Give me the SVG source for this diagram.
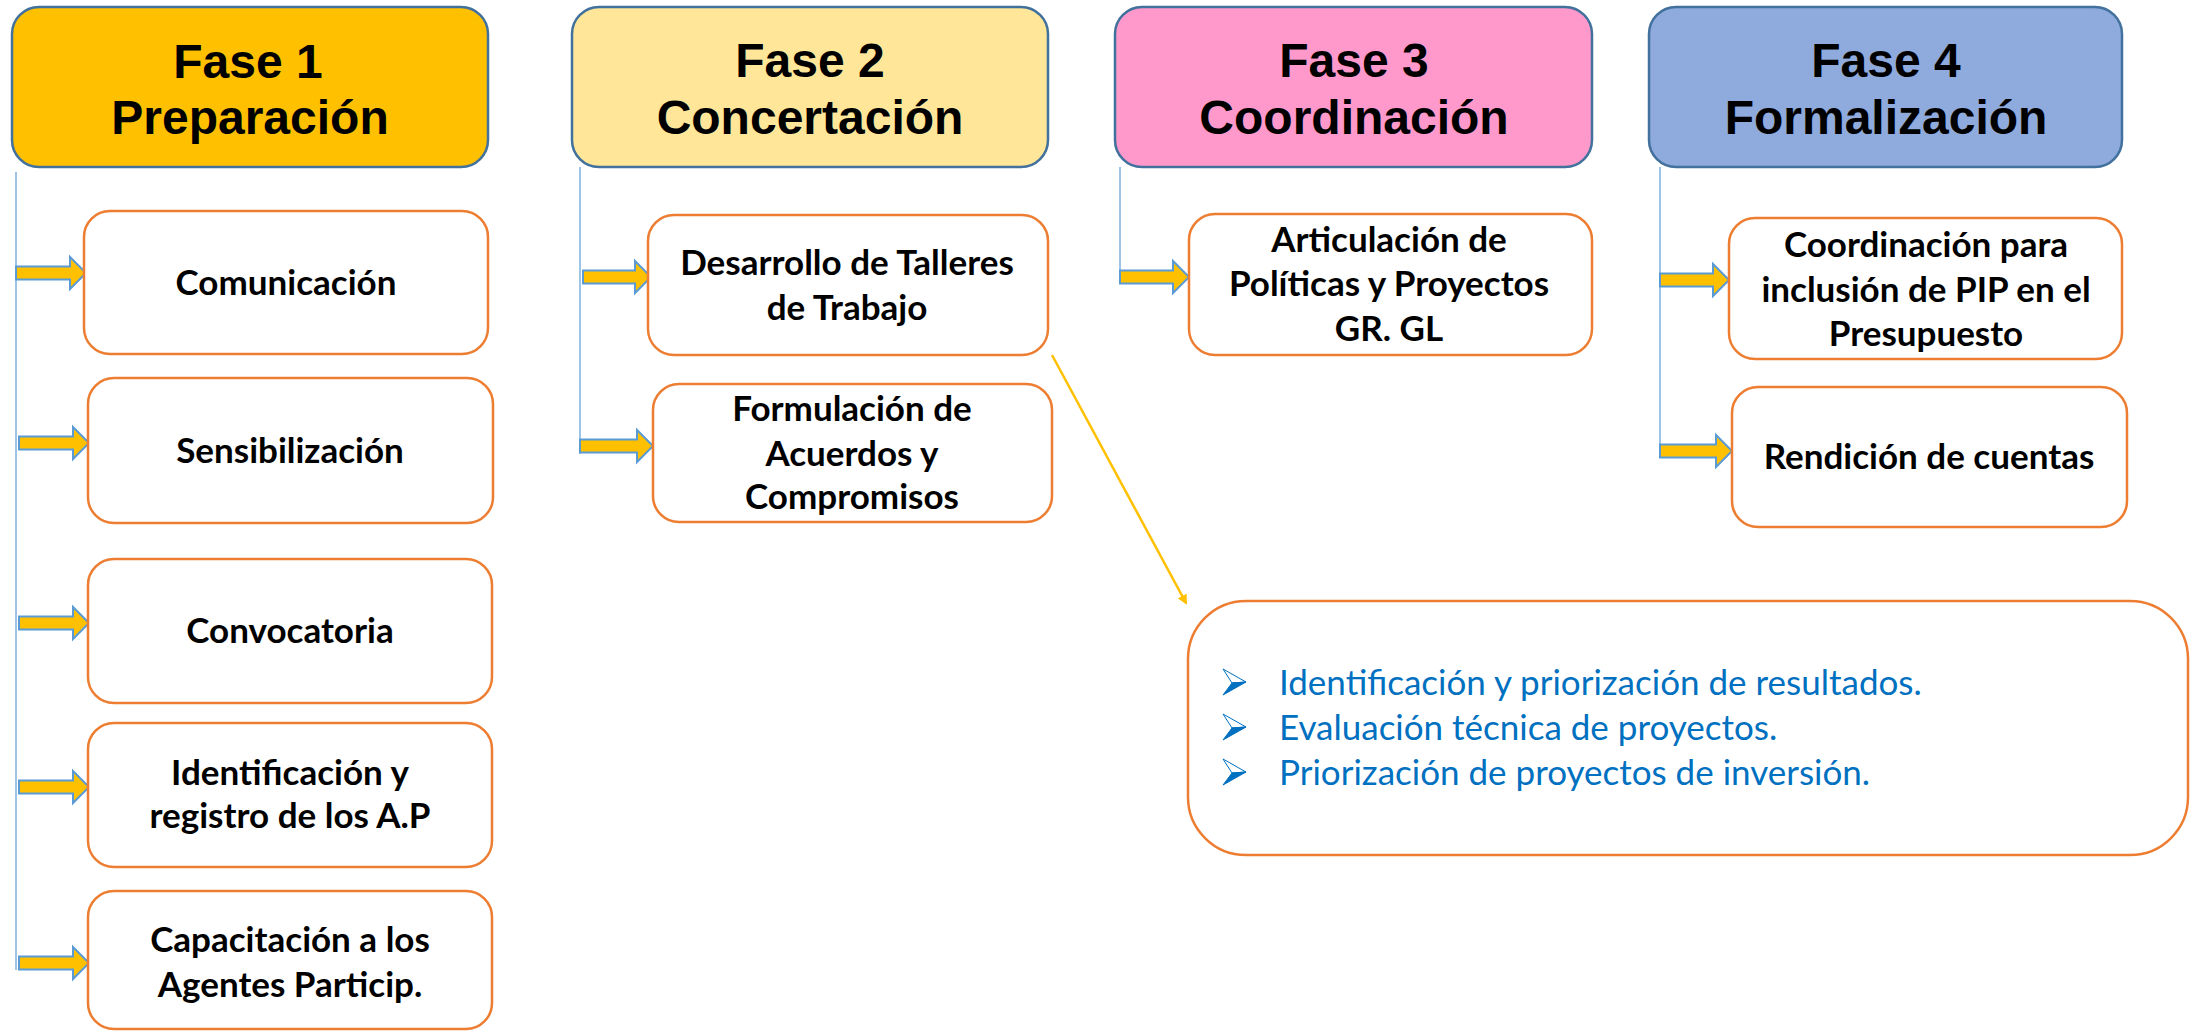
<svg xmlns="http://www.w3.org/2000/svg" width="2200" height="1031" viewBox="0 0 2200 1031">
<defs>
<style>
.phase{stroke:#41719C;stroke-width:2.5}
.ph-t{font-family:"Liberation Sans",Arial,sans-serif;font-weight:bold;font-size:48px;fill:#000;text-anchor:middle}
.box{fill:#fff;stroke:#ED7D31;stroke-width:2.5}
.bt{font-family:Lato,"Liberation Sans",sans-serif;font-weight:bold;font-size:35px;fill:#000;text-anchor:middle}
.vl{stroke:#9DC3E6;stroke-width:2;fill:none}
.ar{fill:#FFC000;stroke:#5B9BD5;stroke-width:2}
.bl{font-family:Lato,"Liberation Sans",sans-serif;font-size:35px;fill:#0070C0}
</style>
<marker id="ah" markerWidth="10" markerHeight="10" refX="8" refY="5" orient="auto" markerUnits="userSpaceOnUse" viewBox="0 0 10 10">
<path d="M0,0 L10,5 L0,10 Z" fill="#FFC000"/>
</marker>
</defs>
<rect width="2200" height="1031" fill="#fff"/>

<g id="connectors">
<path class="vl" d="M16,172 V970"/>
<path class="vl" d="M580,167 V454"/>
<path class="vl" d="M1120,167 V284"/>
<path class="vl" d="M1660,167 V458"/>
<path class="ar" d="M16,266.5 H70 V257 L86,273 L70,289 V279.5 H16 Z"/>
<path class="ar" d="M19,436.5 H73 V427 L89,443 L73,459 V449.5 H19 Z"/>
<path class="ar" d="M19,616.5 H73 V607 L89,623 L73,639 V629.5 H19 Z"/>
<path class="ar" d="M19,780.5 H73 V771 L89,787 L73,803 V793.5 H19 Z"/>
<path class="ar" d="M19,956.5 H73 V947 L89,963 L73,979 V969.5 H19 Z"/>
<path class="ar" d="M583,270.5 H635 V261 L651,277 L635,293 V283.5 H583 Z"/>
<path class="ar" d="M580,439.5 H637 V430 L653,446 L637,462 V452.5 H580 Z"/>
<path class="ar" d="M1120,270.5 H1173 V261 L1189,277 L1173,293 V283.5 H1120 Z"/>
<path class="ar" d="M1660,273.5 H1713 V264 L1729,280 L1713,296 V286.5 H1660 Z"/>
<path class="ar" d="M1660,444.5 H1716 V435 L1732,451 L1716,467 V457.5 H1660 Z"/>
<line x1="1052" y1="355" x2="1186" y2="603" stroke="#FFC000" stroke-width="2.5" marker-end="url(#ah)"/>
</g>

<g id="fase1">
<rect class="phase" x="12" y="7" width="476" height="160" rx="27" fill="#FFC000"/>
<text class="ph-t" x="248" y="78">Fase 1</text>
<text class="ph-t" x="250" y="134">Preparación</text>
</g>
<g id="fase2">
<rect class="phase" x="572" y="7" width="476" height="160" rx="27" fill="#FFE699"/>
<text class="ph-t" x="810" y="77">Fase 2</text>
<text class="ph-t" x="810" y="134">Concertación</text>
</g>
<g id="fase3">
<rect class="phase" x="1115" y="7" width="477" height="160" rx="27" fill="#FF99CC"/>
<text class="ph-t" x="1354" y="77">Fase 3</text>
<text class="ph-t" x="1354" y="134">Coordinación</text>
</g>
<g id="fase4">
<rect class="phase" x="1649" y="7" width="473" height="160" rx="27" fill="#8FAADC"/>
<text class="ph-t" x="1886" y="77">Fase 4</text>
<text class="ph-t" x="1886" y="134">Formalización</text>
</g>

<g id="comunicacion">
<rect class="box" x="84" y="211" width="404" height="143" rx="26"/>
<text class="bt" x="286" y="295">Comunicación</text>
</g>
<g id="sensibilizacion">
<rect class="box" x="88" y="378" width="405" height="145" rx="26"/>
<text class="bt" x="290" y="463">Sensibilización</text>
</g>
<g id="convocatoria">
<rect class="box" x="88" y="559" width="404" height="144" rx="26"/>
<text class="bt" x="290" y="643">Convocatoria</text>
</g>
<g id="identificacion">
<rect class="box" x="88" y="723" width="404" height="144" rx="26"/>
<text class="bt" x="290" y="785">Identificación y</text>
<text class="bt" x="290" y="828">registro de los A.P</text>
</g>
<g id="capacitacion">
<rect class="box" x="88" y="891" width="404" height="138" rx="26"/>
<text class="bt" x="290" y="952">Capacitación a los</text>
<text class="bt" x="290" y="997">Agentes Particip.</text>
</g>

<g id="desarrollo">
<rect class="box" x="648" y="215" width="400" height="140" rx="26"/>
<text class="bt" x="847" y="275">Desarrollo de Talleres</text>
<text class="bt" x="847" y="320">de Trabajo</text>
</g>
<g id="formulacion">
<rect class="box" x="653" y="384" width="399" height="138" rx="26"/>
<text class="bt" x="852" y="421">Formulación de</text>
<text class="bt" x="852" y="466">Acuerdos y</text>
<text class="bt" x="852" y="509">Compromisos</text>
</g>

<g id="articulacion">
<rect class="box" x="1189" y="214" width="403" height="141" rx="26"/>
<text class="bt" x="1389" y="252">Articulación de</text>
<text class="bt" x="1389" y="296">Políticas y Proyectos</text>
<text class="bt" x="1389" y="341">GR. GL</text>
</g>

<g id="coordinacion-pip">
<rect class="box" x="1729" y="218" width="393" height="141" rx="26"/>
<text class="bt" x="1926" y="257">Coordinación para</text>
<text class="bt" x="1926" y="302">inclusión de PIP en el</text>
<text class="bt" x="1926" y="346">Presupuesto</text>
</g>
<g id="rendicion">
<rect class="box" x="1732" y="387" width="395" height="140" rx="26"/>
<text class="bt" x="1929" y="469">Rendición de cuentas</text>
</g>

<g id="resultados">
<rect class="box" x="1188" y="601" width="1000" height="254" rx="58"/>
<g fill="#0070C0" stroke="#0070C0" stroke-width="1">
<path d="M1223,669 L1246,682 L1232,683 Z" fill="#fff"/>
<path d="M1232,683 L1246,682 L1223,695 Z"/>
<path d="M1223,714 L1246,727 L1232,728 Z" fill="#fff"/>
<path d="M1232,728 L1246,727 L1223,740 Z"/>
<path d="M1223,759 L1246,772 L1232,773 Z" fill="#fff"/>
<path d="M1232,773 L1246,772 L1223,785 Z"/>
</g>
<text class="bl" x="1279" y="695">Identificación y priorización de resultados.</text>
<text class="bl" x="1279" y="740">Evaluación técnica de proyectos.</text>
<text class="bl" x="1279" y="785">Priorización de proyectos de inversión.</text>
</g>
</svg>
